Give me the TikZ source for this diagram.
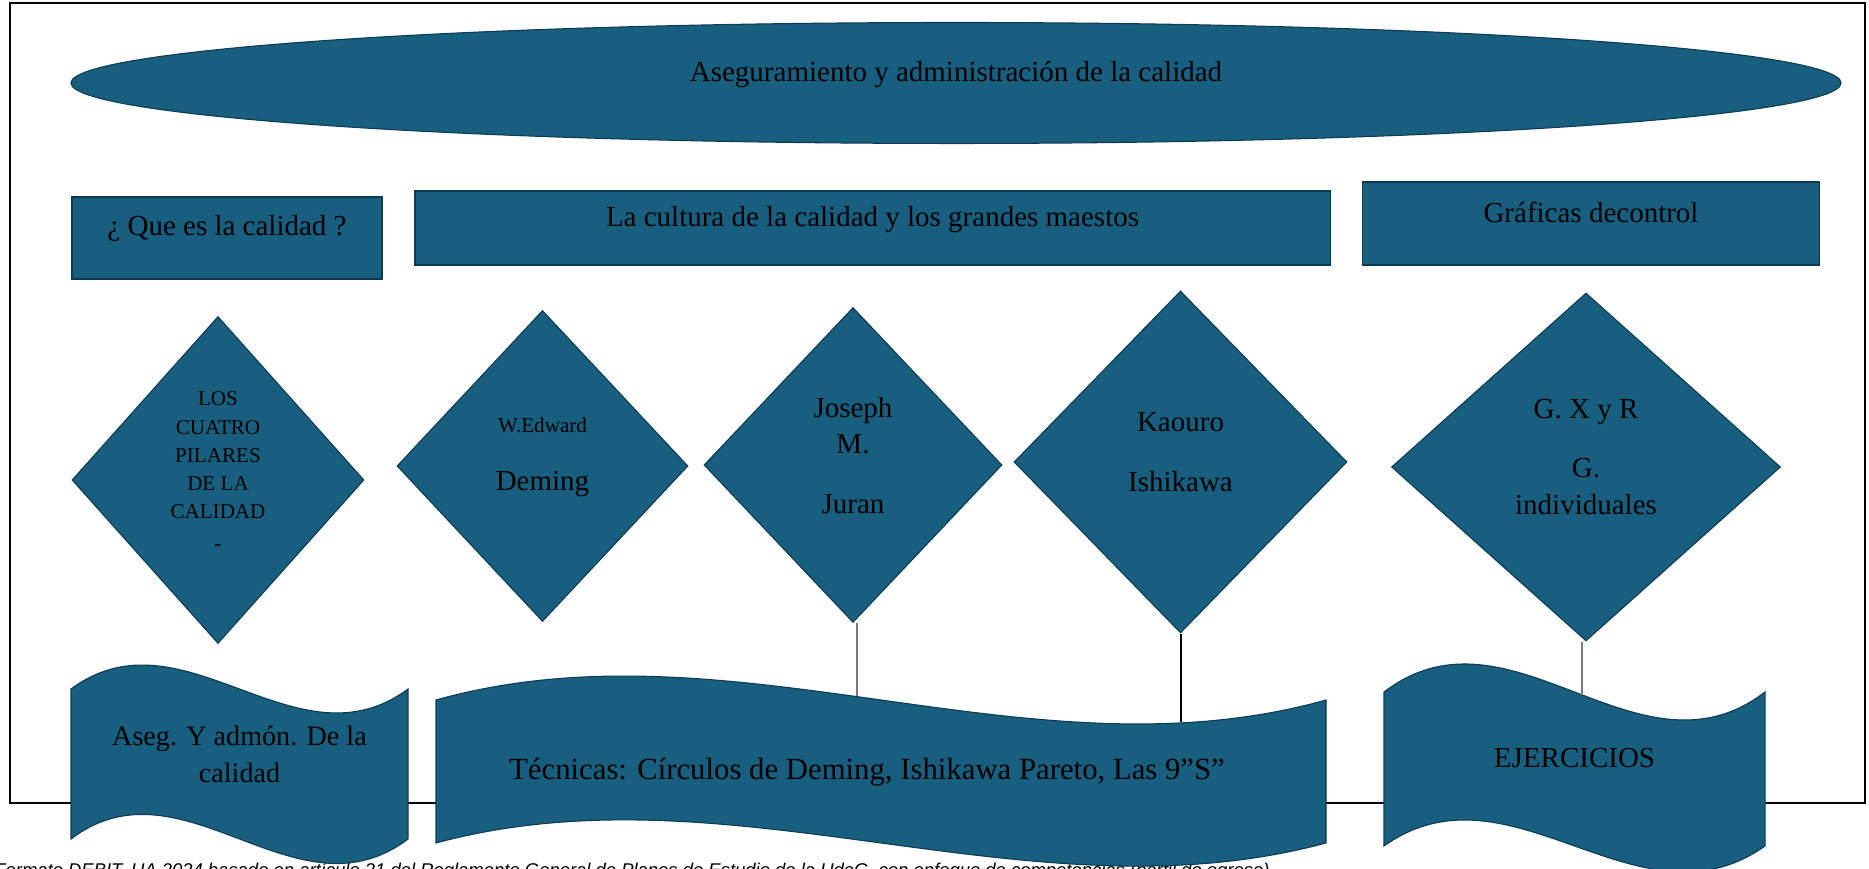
\documentclass[tikz,border=0pt]{standalone}
\usepackage{fontspec}
\setmainfont{Liberation Serif}
\newfontfamily\footfont{Liberation Sans}
\usepackage{tikz}
\usetikzlibrary{shapes.geometric}
\definecolor{boxblue}{HTML}{175E7F}
\definecolor{boxedge}{HTML}{0D3A50}
\definecolor{linkgray}{HTML}{7A7A7A}

\begin{document}
\begin{tikzpicture}[x=0.2mm, y=0.2mm,
    blueshape/.style={fill=boxblue, draw=boxedge, line width=0.6pt, inner sep=0pt},
    bigtext/.style={font=\fontsize{16.5}{21}\selectfont, align=center, inner sep=0pt},
    smalltext/.style={font=\fontsize{12}{16}\selectfont, align=center, inner sep=0pt}]
    \useasboundingbox (0,0) rectangle (1869,869);
    \clip (0,0) rectangle (1869,869);
    \draw[line width=1.2pt] (10,66) rectangle (1865,866);
    \node[anchor=base west, inner sep=0pt, font=\footfont\itshape\fontsize{10.5}{12}\selectfont] (foot) at (-6,-8)
        {Formato DEBIT, UA 2024 basado en artículo 21 del Reglamento General de Planes de Estudio de la UdeG, con enfoque de competencias (perfil de egreso)};

    \node[blueshape, ellipse, minimum width=354mm, minimum height=24.2mm] (top) at (956,786) {};
    \node[bigtext] (toptxt) at (956,794) {Aseguramiento y administración de la calidad};

    \node[blueshape, rectangle, minimum width=62mm, minimum height=16.4mm] (que) at (227,631) {};
    \node[blueshape, rectangle, minimum width=183mm, minimum height=14.8mm] (cultura) at (872.5,641) {};
    \node[blueshape, rectangle, minimum width=91.4mm, minimum height=16.6mm] (graficas) at (1591,645.5) {};
    \node[bigtext] (quetxt) at (227,641) {¿ Que es la calidad ?};
    \node[bigtext] (culturatxt) at (872.5,649) {La cultura de la calidad y los grandes maestos};
    \node[bigtext] (graficastxt) at (1591,657) {Gráficas decontrol};

    \node[blueshape, diamond, minimum width=58.4mm, minimum height=65.4mm] (pilares) at (218,389) {};
    \node[blueshape, diamond, minimum width=58.2mm, minimum height=62.2mm] (deming) at (542.5,403) {};
    \node[blueshape, diamond, minimum width=59.6mm, minimum height=63mm] (juran) at (853,404) {};
    \node[blueshape, diamond, minimum width=66.6mm, minimum height=68.4mm] (ishikawa) at (1180.5,407) {};
    \node[blueshape, diamond, minimum width=77.8mm, minimum height=69.6mm] (xyr) at (1586,402) {};
    \node[smalltext] (pilarestxt) at (218,398) {LOS\\CUATRO\\PILARES\\DE LA\\CALIDAD\\[2pt]-};
    \node[bigtext] (demingtxt) at (542.5,412) {{\fontsize{12}{14}\selectfont W.Edward}\\[12pt]Deming};
    \node[bigtext] (jurantxt) at (853,413.5) {Joseph\\M.\\[13pt]Juran};
    \node[bigtext] (ishikawatxt) at (1180.5,417) {Kaouro\\[13pt]Ishikawa};
    \node[bigtext] (xyrtxt) at (1586,412) {G. X y R\\[13pt]G.\\individuales};

    \filldraw[blueshape] (71,180) .. controls (183.3,263) and (295.7,97) .. (408,180)
        -- (408,30) .. controls (295.7,-55) and (183.3,115) .. (71,30) -- cycle;
    \filldraw[blueshape] (436,169) .. controls (732.7,252) and (1029.3,86) .. (1326,169)
        -- (1326,26) .. controls (1029.3,-54) and (732.7,106) .. (436,26) -- cycle;
    \filldraw[blueshape] (1384,177) .. controls (1511,274) and (1638,80) .. (1765,177)
        -- (1765,23) .. controls (1638,-67) and (1511,113) .. (1384,23) -- cycle;
    \node[bigtext, font=\fontsize{16}{21}\selectfont] (asegtxt) at (239.5,115) {Aseg. Y admón. De la\\calidad};
    \node[bigtext, font=\fontsize{17.5}{21}\selectfont] (tecnicastxt) at (867,97) {Técnicas: Círculos de Deming, Ishikawa Pareto, Las 9”S”};
    \node[bigtext] (ejerciciostxt) at (1574.5,111) {EJERCICIOS};

    \coordinate (tecnicasA) at (857,173);
    \coordinate (tecnicasB) at (1181,147);
    \coordinate (ejerciciosA) at (1582,174);
    \draw[linkgray, line width=0.85pt] (tecnicasA |- juran.south) -- (tecnicasA);
    \draw[line width=1.1pt] (tecnicasB |- ishikawa.south) -- (tecnicasB);
    \draw[linkgray, line width=0.85pt] (ejerciciosA |- xyr.south) -- (ejerciciosA);
\end{tikzpicture}
\end{document}
